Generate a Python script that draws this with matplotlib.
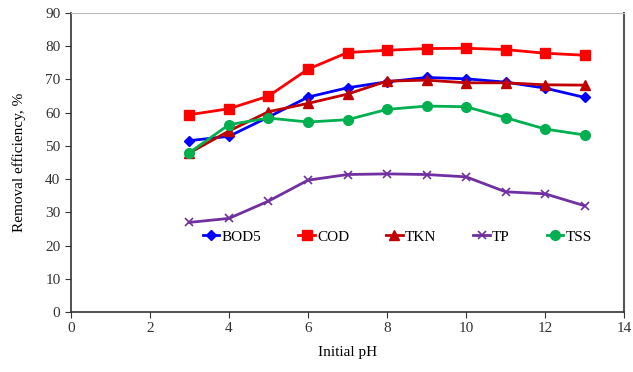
import matplotlib
matplotlib.use("Agg")
import matplotlib.pyplot as plt

plt.rcParams['font.family'] = ['Liberation Serif', 'DejaVu Serif']

ph = [3, 4, 5, 6, 7, 8, 9, 10, 11, 12, 13]
bod5 = [51.6, 52.9, 58.7, 64.7, 67.5, 69.3, 70.6, 70.2, 69.2, 67.4, 64.6]
cod = [59.4, 61.2, 65.0, 73.1, 78.1, 78.8, 79.3, 79.4, 79.0, 77.9, 77.3]
tkn = [47.9, 54.5, 60.3, 62.8, 65.6, 69.5, 69.8, 69.0, 69.0, 68.4, 68.3]
tp = [27.0, 28.2, 33.4, 39.7, 41.4, 41.6, 41.4, 40.7, 36.2, 35.6, 32.0]
tss = [48.0, 56.4, 58.4, 57.2, 57.9, 61.0, 62.0, 61.8, 58.5, 55.1, 53.3]

fig = plt.figure(figsize=(6.33, 3.72), dpi=100)
ax = fig.add_axes([0.112, 0.161, 0.874, 0.804])

ax.plot(ph, bod5, color='#0000FF', marker='D', markersize=5, lw=2, label='BOD5')
ax.plot(ph, cod, color='#FF0000', marker='s', markersize=7, lw=2, label='COD')
ax.plot(ph, tkn, color='#C00000', marker='^', markersize=7, lw=2, label='TKN')
ax.plot(ph, tp, color='#7030A0', marker='x', markersize=6, mew=1.2, lw=2, label='TP')
ax.plot(ph, tss, color='#00B050', marker='o', markersize=7, lw=2, label='TSS')

ax.set_xlim(0, 14)
ax.set_ylim(0, 90)
ax.set_xticks(range(0, 15, 2))
ax.set_yticks(range(0, 91, 10))
ax.set_xlabel('Initial pH', fontsize=11, labelpad=8)
ax.set_ylabel('Removal efficiency, %', fontsize=11, labelpad=14)
ax.tick_params(direction='out', length=4, labelsize=11, colors='#333333')
ax.tick_params(axis='x', pad=3)

for s in ['left', 'bottom']:
    ax.spines[s].set_color('#333333')
    ax.spines[s].set_linewidth(1.2)
ax.spines['top'].set_color('#bbbbbb')
ax.spines['right'].set_color('#555555')
ax.spines['right'].set_linewidth(1.5)

ax.legend(loc='upper center', bbox_to_anchor=(0.59, 0.295), ncol=5, frameon=False,
          fontsize=11, handlelength=1.1, handletextpad=0.15, columnspacing=2.4,
          borderaxespad=0)

fig.savefig('out.png', dpi=100)
